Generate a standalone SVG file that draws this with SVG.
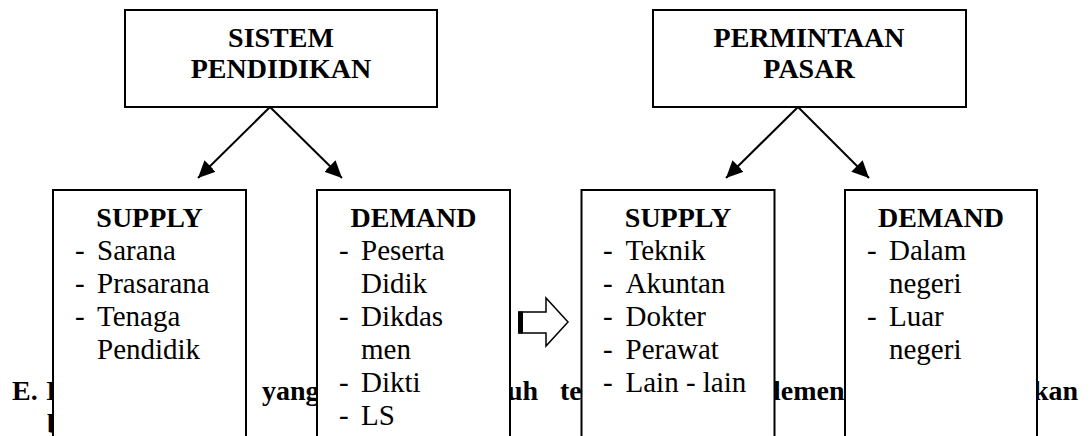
<svg xmlns="http://www.w3.org/2000/svg" width="1091" height="436" viewBox="0 0 1091 436">
<style>
.box{fill:#fff;stroke:#000;stroke-width:2}
.h{font-family:"Liberation Serif",serif;font-weight:bold;font-size:28px;text-anchor:middle;fill:#000}
.t{font-family:"Liberation Serif",serif;font-size:29px;fill:#000}
.bg{font-family:"Liberation Serif",serif;font-weight:bold;font-size:28px;fill:#000}
.conn line{stroke:#000;stroke-width:2}
</style>
<defs>
<marker id="ah" markerUnits="userSpaceOnUse" markerWidth="20" markerHeight="20" refX="17" refY="8" orient="auto">
<path d="M0,0 L17,8 L0,16 Z" fill="#000"/>
</marker>
</defs>
<rect width="1091" height="436" fill="#fff"/>
<g id="background-text">
<text class="bg" x="12" y="400">E.</text>
<text class="bg" x="46" y="400">I</text>
<text class="bg" x="262" y="400">yang</text>
<text class="bg" x="507" y="400">uh</text>
<text class="bg" x="560" y="400">te</text>
<text class="bg" x="773" y="400">lemen</text>
<text class="bg" x="1033" y="400">kan</text>
<text class="bg" x="47" y="433">b</text>
</g>
<g id="connectors" class="conn">
<line x1="270" y1="107" x2="198" y2="178" marker-end="url(#ah)"/>
<line x1="270" y1="107" x2="342" y2="178" marker-end="url(#ah)"/>
<line x1="798" y1="107" x2="726" y2="178" marker-end="url(#ah)"/>
<line x1="798" y1="107" x2="869" y2="178" marker-end="url(#ah)"/>
<g id="block-arrow">
<polygon points="519,312 546,312 546,298 568,322 546,346 546,333 519,333" fill="#fff" stroke="#000" stroke-width="1.5"/>
<rect x="518" y="311.5" width="5" height="22" fill="#000"/>
</g>
</g>
<g id="sistem-pendidikan">
<rect class="box" x="125" y="10" width="312" height="97"/>
<text class="h" x="281" y="47">SISTEM</text>
<text class="h" x="281" y="78">PENDIDIKAN</text>
</g>
<g id="permintaan-pasar">
<rect class="box" x="653" y="10" width="313" height="97"/>
<text class="h" x="809" y="47">PERMINTAAN</text>
<text class="h" x="809" y="78">PASAR</text>
</g>
<g id="supply-1">
<rect class="box" x="53" y="190" width="193" height="270"/>
<text class="h" x="149.5" y="227">SUPPLY</text>
<text class="t" x="75" y="260">-</text><text class="t" x="97" y="260">Sarana</text>
<text class="t" x="75" y="293">-</text><text class="t" x="97" y="293">Prasarana</text>
<text class="t" x="75" y="326">-</text><text class="t" x="97" y="326">Tenaga</text>
<text class="t" x="97" y="359">Pendidik</text>
</g>
<g id="demand-1">
<rect class="box" x="317" y="190" width="193" height="270"/>
<text class="h" x="413.5" y="227">DEMAND</text>
<text class="t" x="339" y="260">-</text><text class="t" x="361" y="260">Peserta</text>
<text class="t" x="361" y="293">Didik</text>
<text class="t" x="339" y="326">-</text><text class="t" x="361" y="326">Dikdas</text>
<text class="t" x="361" y="359">men</text>
<text class="t" x="339" y="392">-</text><text class="t" x="361" y="392">Dikti</text>
<text class="t" x="339" y="425">-</text><text class="t" x="361" y="425">LS</text>
</g>
<g id="supply-2">
<rect class="box" x="581.5" y="190" width="193" height="270"/>
<text class="h" x="678" y="227">SUPPLY</text>
<text class="t" x="603" y="260">-</text><text class="t" x="625.5" y="260">Teknik</text>
<text class="t" x="603" y="293">-</text><text class="t" x="625.5" y="293">Akuntan</text>
<text class="t" x="603" y="326">-</text><text class="t" x="625.5" y="326">Dokter</text>
<text class="t" x="603" y="359">-</text><text class="t" x="625.5" y="359">Perawat</text>
<text class="t" x="603" y="392">-</text><text class="t" x="625.5" y="392">Lain - lain</text>
</g>
<g id="demand-2">
<rect class="box" x="845" y="190" width="192" height="270"/>
<text class="h" x="941" y="227">DEMAND</text>
<text class="t" x="867" y="260">-</text><text class="t" x="889" y="260">Dalam</text>
<text class="t" x="889" y="293">negeri</text>
<text class="t" x="867" y="326">-</text><text class="t" x="889" y="326">Luar</text>
<text class="t" x="889" y="359">negeri</text>
</g>
</svg>
